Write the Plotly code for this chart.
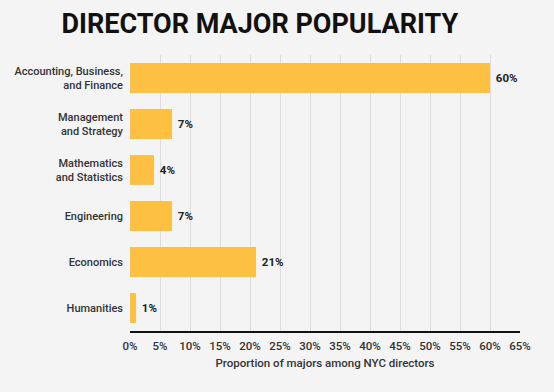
import plotly.graph_objects as go

categories = ["Accounting, Business,<br>and Finance", "Management<br>and Strategy",
              "Mathematics<br>and Statistics", "Engineering", "Economics", "Humanities"]
values = [60, 7, 4, 7, 21, 1]
tick_vals = list(range(0, 70, 5))
tick_text = [f"{v}%" for v in tick_vals]

fig = go.Figure(go.Bar(
    x=values, y=categories, orientation="h",
    marker=dict(color="#FDC043", line=dict(width=0)),
    width=0.65,
    text=[f"<b> {v}%</b>" for v in values], textposition="outside",
    textfont=dict(family="Roboto", size=11.5, color="#222"),
    cliponaxis=False,
))

fig.update_layout(
    width=554, height=392,
    paper_bgcolor="#f4f4f4", plot_bgcolor="#f4f4f4",
    margin=dict(l=130, r=34, t=55, b=61),
    title=dict(text="<b>DIRECTOR MAJOR POPULARITY</b>", x=0.469, xanchor="center",
               y=0.94, yanchor="middle",
               font=dict(family="Roboto", size=27, color="#111")),
    font=dict(family="Roboto", size=11, color="#333"),
    showlegend=False,
    xaxis=dict(range=[0, 65], tickvals=tick_vals, ticktext=tick_text,
               showgrid=True, gridcolor="#dddddd", gridwidth=1,
               showline=True, linecolor="#111", linewidth=2,
               zeroline=False, ticks="", ticklen=0, automargin=False,
               ticklabelstandoff=3,
               title=dict(text="Proportion of majors among NYC directors", standoff=7,
                          font=dict(family="Roboto", size=11.5, color="#333", weight=500)),
               tickfont=dict(family="Roboto", size=11.5, color="#333", weight=500)),
    yaxis=dict(autorange="reversed", showgrid=False, zeroline=False,
               ticks="", ticklabelstandoff=6, automargin=False,
               tickfont=dict(family="Roboto", size=11, color="#333", weight=500)),
)

fig.write_html("out.html", config={"displayModeBar": False},
               post_script="document.body.style.margin='0';document.body.style.background='#f4f4f4';")
